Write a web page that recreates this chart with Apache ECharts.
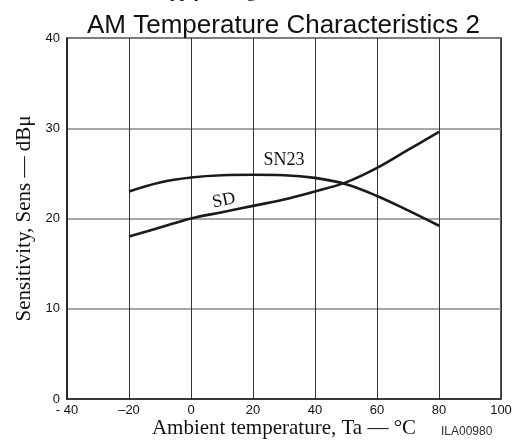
<!DOCTYPE html>
<html>
<head>
<meta charset="utf-8">
<script src="https://cdn.jsdelivr.net/npm/echarts@6/dist/echarts.min.js"></script>
<style>
  html, body { margin: 0; padding: 0; background: #fff; }
  #chart { width: 515px; height: 440px; }
</style>
</head>
<body>
<div id="chart"></div>
<script>
// temperatures (°C) and sensitivity (dBμ)
const temps = [-20, -10, 0, 10, 20, 30, 40, 50, 60, 70, 80];
const sdValues = [18, 19, 20, 20.7, 21.4, 22.1, 23, 24, 25.6, 27.6, 29.6];
const sn23Values = [23, 24, 24.55, 24.8, 24.85, 24.8, 24.5, 23.8, 22.5, 20.9, 19.2];
const xTickLabels = { "-40": "- 40", "-20": "\u201320" };

const serif = "Liberation Serif";
const sans = "Liberation Sans";

const myChart = echarts.init(document.getElementById("chart"));

const pair = (vals) => temps.map((t, i) => [t, vals[i]]);

// invisible anchor carrying a curve's name label
const curveLabel = (text, coord, rotate) => ({
  symbol: "rect",
  symbolSize: 1,
  itemStyle: { color: "rgba(0,0,0,0)" },
  data: [{ coord: coord }],
  label: {
    show: true,
    formatter: text,
    position: "inside",
    rotate: rotate,
    fontFamily: serif,
    fontSize: 18,
    color: "#111",
  },
});

myChart.setOption({
  animation: false,
  title: {
    text: "AM Temperature Characteristics 2",
    left: 82,
    top: 8,
    textStyle: { fontFamily: sans, fontSize: 26, fontWeight: "normal", color: "#111" },
  },
  graphic: [
    {
      // clipped caption of the previous chart
      type: "text",
      left: 150,
      top: -17,
      style: {
        text: "Supply voltage, V{s|CC}",
        font: "19px " + serif,
        fill: "#111",
        rich: { s: { fontSize: 13, fontFamily: serif, padding: [8, 0, 0, 0] } },
      },
    },
    {
      type: "text",
      left: 440,
      top: -10,
      style: { text: "ILA00977", font: "12px " + sans, fill: "#333" },
    },
    {
      type: "text",
      left: 441,
      top: 426,
      style: { text: "ILA00980", font: "12px " + sans, fill: "#333" },
    },
  ],
  grid: {
    left: 67,
    right: 14,
    top: 38,
    bottom: 41,
    containLabel: false,
    outerBoundsMode: "none",
    show: true,
    borderColor: "#222",
    borderWidth: 1.5,
  },
  xAxis: {
    type: "value",
    min: -40,
    max: 100,
    interval: 20,
    name: "Ambient temperature, Ta \u2014 \u00b0C",
    nameLocation: "middle",
    nameGap: 19,
    nameMoveOverlap: false,
    nameTextStyle: { fontFamily: serif, fontSize: 21, color: "#111" },
    axisLine: { onZero: false, lineStyle: { color: "#222", width: 1.5 } },
    axisTick: { show: false },
    axisLabel: {
      margin: 5,
      color: "#111",
      fontFamily: sans,
      fontSize: 13,
      formatter: (v) => xTickLabels[v] || String(v),
    },
    splitLine: { show: true, lineStyle: { color: "#333", width: 1 } },
  },
  yAxis: {
    type: "value",
    min: 0,
    max: 40,
    interval: 10,
    name: "Sensitivity, Sens \u2014 dB\u03bc",
    nameLocation: "middle",
    nameGap: 32,
    nameMoveOverlap: false,
    nameTextStyle: { fontFamily: serif, fontSize: 21, color: "#111" },
    axisLine: { onZero: false, lineStyle: { color: "#222", width: 1.5 } },
    axisTick: { show: false },
    axisLabel: { margin: 7, color: "#111", fontFamily: sans, fontSize: 13 },
    splitLine: { show: true, lineStyle: { color: "#888", width: 1.5 } },
  },
  series: [
    {
      name: "SD",
      type: "line",
      smooth: 0.4,
      symbol: "none",
      lineStyle: { color: "#1a1a1a", width: 2.6 },
      data: pair(sdValues),
      markPoint: curveLabel("SD", [10.6, 22], 12),
    },
    {
      name: "SN23",
      type: "line",
      smooth: 0.4,
      symbol: "none",
      lineStyle: { color: "#1a1a1a", width: 2.6 },
      data: pair(sn23Values),
      markPoint: curveLabel("SN23", [30, 26.4], 0),
    },
  ],
});
</script>
</body>
</html>
